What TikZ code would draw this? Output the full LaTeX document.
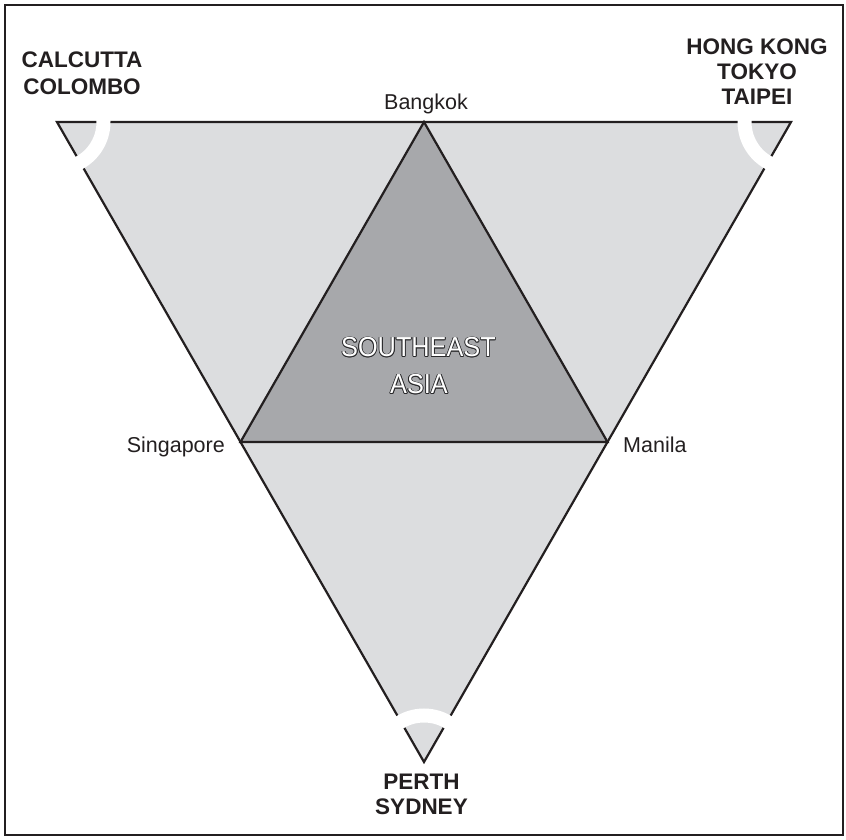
\documentclass[tikz,border=0pt]{standalone}
\usepackage{fontspec}
\usetikzlibrary{calc}
\setmainfont{Liberation Sans}
\definecolor{lightfill}{HTML}{DCDDDF}
\definecolor{darkfill}{HTML}{A7A8AB}
\definecolor{ink}{HTML}{231F20}
\definecolor{olc}{HTML}{2A2A2C}
\newcommand\olcopy[3]{\rlap{\kern#1\raisebox{#2}{\color{olc}#3}}}
\newcommand\outlinedtext[1]{%
  \olcopy{0.9pt}{0pt}{#1}\olcopy{-0.9pt}{0pt}{#1}%
  \olcopy{0pt}{0.9pt}{#1}\olcopy{0pt}{-0.9pt}{#1}%
  \olcopy{0.65pt}{0.65pt}{#1}\olcopy{-0.65pt}{0.65pt}{#1}%
  \olcopy{0.65pt}{-0.65pt}{#1}\olcopy{-0.65pt}{-0.65pt}{#1}%
  {\color{white}#1}}
\begin{document}
\begin{tikzpicture}[x=1pt,y=1pt,
  edge/.style={draw=ink,line width=2.2pt,line join=miter},
  cityname/.style={inner sep=0pt,anchor=base,text=ink,font=\fontsize{21.5}{25}\selectfont},
  region/.style={inner sep=0pt,anchor=base,text=ink,font=\fontsize{22.5}{26}\selectfont\bfseries},
  sealabel/.style={inner sep=0pt,anchor=base,font=\fontsize{27.5}{32}\selectfont},
  gap/.style={draw=white,line width=14pt}]
\useasboundingbox (0,0) rectangle (846,840);
\draw[ink,line width=2pt] (4.5,4.5) rectangle (842.5,834.5);
% vertices
\coordinate (TL) at (57,718);
\coordinate (TR) at (791,718);
\coordinate (B) at (424,78);
\coordinate (BK) at ($(TL)!0.5!(TR)$);
\coordinate (SG) at ($(TL)!0.5!(B)$);
\coordinate (MN) at ($(TR)!0.5!(B)$);
% fills
\fill[lightfill] (TL) -- (TR) -- (B) -- cycle;
\fill[darkfill] (BK) -- (SG) -- (MN) -- cycle;
\draw[edge] (TL) -- (TR) -- (B) -- cycle;
\draw[edge] (BK) -- (SG) -- (MN) -- cycle;
% white gaps near the corners
\draw[gap] (TL) ++(5:46.5) arc[start angle=5,end angle=-65,radius=46.5];
\draw[gap] (TR) ++(175:46.5) arc[start angle=175,end angle=245,radius=46.5];
\draw[gap] (B) ++(55:46.5) arc[start angle=55,end angle=125,radius=46.5];
% city labels
\node[cityname] (bangkok) at (426,730) {Bangkok};
\node[cityname,anchor=base east] (singapore) at (225,387) {Singapore};
\node[cityname,anchor=base west] (manila) at (623,387) {Manila};
% region labels
\node[region] (calcutta) at (82,772) {CALCUTTA};
\node[region] (colombo) at (82,745) {COLOMBO};
\node[region] (hongkong) at (757,785) {HONG KONG};
\node[region] (tokyo) at (757,760) {TOKYO};
\node[region] (taipei) at (757,735) {TAIPEI};
\node[region] (perth) at (421.5,50) {PERTH};
\node[region] (sydney) at (421.5,25) {SYDNEY};
% centre label
\node[sealabel,xscale=0.92] (southeast) at (418.5,483) {\outlinedtext{SOUTHEAST}};
\node[sealabel,xscale=0.92] (asia) at (419,446) {\outlinedtext{ASIA}};
\end{tikzpicture}
\end{document}
